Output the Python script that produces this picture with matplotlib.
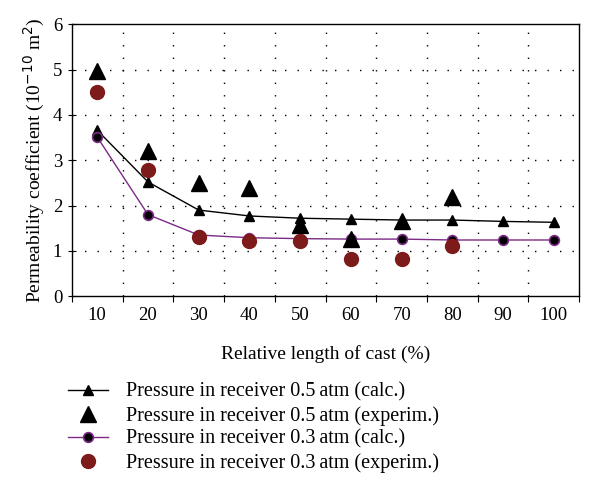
import numpy as np
import matplotlib.pyplot as plt
from matplotlib.ticker import FixedLocator, NullFormatter, FixedFormatter

plt.rcParams['font.family'] = ['Liberation Serif', 'DejaVu Serif']

categories = [10, 20, 30, 40, 50, 60, 70, 80, 90, 100]
calc_05 = [3.66, 2.52, 1.90, 1.77, 1.72, 1.70, 1.68, 1.68, 1.65, 1.63]
exp_05 = [4.97, 3.20, 2.50, 2.38, 1.57, 1.27, 1.66, 2.19]
calc_03 = [3.51, 1.80, 1.35, 1.29, 1.27, 1.26, 1.26, 1.24, 1.24, 1.24]
exp_03 = [4.51, 2.79, 1.30, 1.21, 1.22, 0.81, 0.81, 1.11]

x = np.arange(1, len(categories) + 1)
x_exp = x[:len(exp_05)]

fig = plt.figure(figsize=(5.99, 4.84), dpi=100)
ax = fig.add_axes([0.120, 0.388, 0.847, 0.562])

purple = '#7b2a86'
darkred = '#7d1a1a'

ax.plot(x, calc_05, color='black', lw=1.0, marker='^', ms=7,
        label='Pressure in receiver 0.5\u2009atm (calc.)', zorder=3)
ax.plot(x_exp, exp_05, linestyle='none', color='black', marker='^', ms=11,
        label='Pressure in receiver 0.5\u2009atm (experim.)', zorder=4)
ax.plot(x, calc_03, color=purple, lw=1.0, marker='o', ms=7, mfc='black',
        mec=purple, mew=1.2, label='Pressure in receiver 0.3\u2009atm (calc.)', zorder=3)
ax.plot(x_exp, exp_03, linestyle='none', color=darkred, marker='o', ms=10,
        label='Pressure in receiver 0.3\u2009atm (experim.)', zorder=4)

ax.set_xlim(0.5, 10.5)
ax.set_ylim(0, 6)
ax.set_yticks(range(0, 7))

# category boundaries as major ticks, labels at centres
ax.xaxis.set_major_locator(FixedLocator(np.arange(0.5, 11, 1)))
ax.xaxis.set_major_formatter(NullFormatter())
ax.xaxis.set_minor_locator(FixedLocator(x))
ax.xaxis.set_minor_formatter(FixedFormatter([str(c) for c in categories]))
ax.tick_params(axis='x', which='minor', length=0, labelsize=13.5, pad=8)
ax.tick_params(axis='x', which='major', length=4, direction='out')
ax.tick_params(axis='y', labelsize=13.5, length=6, direction='inout', pad=4)

for v in range(1, 6):
    ax.axhline(v, color='black', lw=1.0, ls=(0, (1, 8)), zorder=1)
for b in np.arange(1.5, 10.5, 1):
    ax.axvline(b, color='black', lw=1.0, ls=(0, (1, 8)), zorder=1)

for s in ax.spines.values():
    s.set_linewidth(1.0)

ax.set_xlabel('Relative length of cast (%)', fontsize=14, labelpad=15)
ax.set_ylabel('Permeability coefficient (10$^{-10}$ m$^2$)', fontsize=14, labelpad=4)

handles, labels = ax.get_legend_handles_labels()
fig.legend(handles, labels, loc='upper left', bbox_to_anchor=(0.100, 0.226),
           frameon=False, fontsize=14.5, handlelength=2.0, labelspacing=0.2,
           handletextpad=0.9, borderaxespad=0)

fig.savefig('out.png', dpi=100)
